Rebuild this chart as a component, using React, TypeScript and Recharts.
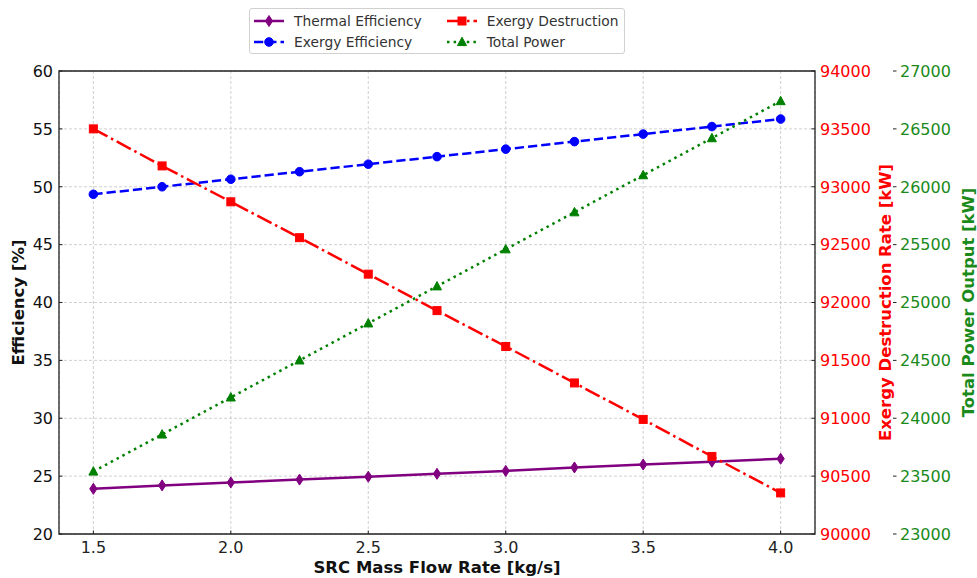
import React from 'react'
import { LineChart, Line, XAxis, YAxis, CartesianGrid, ReferenceArea } from 'recharts'

// SRC mass flow rate sweep [kg/s]
const flowRates = [1.5, 1.75, 2.0, 2.25, 2.5, 2.75, 3.0, 3.25, 3.5, 3.75, 4.0]
const thermalEff = [23.9, 24.2, 24.45, 24.7, 24.95, 25.2, 25.45, 25.75, 26.0, 26.25, 26.5]
const exergyEff = [49.35, 50.0, 50.65, 51.3, 51.95, 52.6, 53.25, 53.9, 54.55, 55.2, 55.85]
const exergyDestruction = [93500, 93180, 92870, 92560, 92245, 91930, 91620, 91305, 90990, 90670, 90355]
const totalPower = [23540, 23860, 24180, 24500, 24820, 25140, 25460, 25780, 26100, 26420, 26740]

const xTicks = [1.5, 2.0, 2.5, 3.0, 3.5, 4.0]
const effTicks = [20, 25, 30, 35, 40, 45, 50, 55, 60]
const destTicks = [90000, 90500, 91000, 91500, 92000, 92500, 93000, 93500, 94000]
const powerTicks = [23000, 23500, 24000, 24500, 25000, 25500, 26000, 26500, 27000]

const data = flowRates.map((x, i) => ({
  x,
  thermal: thermalEff[i],
  exergy: exergyEff[i],
  destruction: exergyDestruction[i],
  power: totalPower[i],
}))

const FONT = 'DejaVu Sans, sans-serif'

type Marker = 'diamond' | 'circle' | 'square' | 'triangle'

const series = [
  { key: 'thermal', name: 'Thermal Efficiency', color: '#800080', dash: undefined, marker: 'diamond' as Marker, axis: 'left', col: 0 },
  { key: 'exergy', name: 'Exergy Efficiency', color: '#0000ff', dash: '9.25 4', marker: 'circle' as Marker, axis: 'left', col: 0 },
  { key: 'destruction', name: 'Exergy Destruction', color: '#ff0000', dash: '16 4 2.5 4', marker: 'square' as Marker, axis: 'dest', col: 1 },
  { key: 'power', name: 'Total Power', color: '#008000', dash: '2.5 4.1', marker: 'triangle' as Marker, axis: 'power', col: 1 },
]

function markerShape(kind: Marker, cx: number, cy: number, color: string, key?: React.Key) {
  switch (kind) {
    case 'diamond':
      return <polygon key={key} points={`${cx},${cy - 5.5} ${cx + 3.6},${cy} ${cx},${cy + 5.5} ${cx - 3.6},${cy}`} fill={color} stroke={color} />
    case 'circle':
      return <circle key={key} cx={cx} cy={cy} r={4.3} fill={color} stroke={color} />
    case 'square':
      return <rect key={key} x={cx - 4} y={cy - 4} width={8} height={8} fill={color} stroke={color} />
    default:
      return <polygon key={key} points={`${cx},${cy - 4.8} ${cx + 4.5},${cy + 3.6} ${cx - 4.5},${cy + 3.6}`} fill={color} stroke={color} />
  }
}

const makeDot = (kind: Marker, color: string) => (props: any) => {
  const { cx, cy, index } = props
  return markerShape(kind, cx, cy, color, `m-${index}`)
}

// matplotlib-style ticks pointing into the plot
const LeftTick = (props: any) => {
  const { x, y, payload } = props
  const axisX = x + 8
  return (
    <g>
      <line x1={axisX} x2={axisX + 3.5} y1={y} y2={y} stroke="#222" />
      <text x={x + 2} y={y} dy="0.36em" textAnchor="end" fontSize={16} fill="#111" fontFamily={FONT}>{payload.value}</text>
    </g>
  )
}

const BottomTick = (props: any) => {
  const { x, y, payload } = props
  const axisY = y - 8
  return (
    <g>
      <line x1={x} x2={x} y1={axisY} y2={axisY - 3.5} stroke="#222" />
      <text x={x} y={y + 11} textAnchor="middle" fontSize={16} fill="#222" fontFamily={FONT}>{Number(payload.value).toFixed(1)}</text>
    </g>
  )
}

const RightTick = (color: string, inward: boolean) => (props: any) => {
  const { x, y, payload } = props
  const axisX = x - 8
  return (
    <g>
      {inward
        ? <line x1={axisX} x2={axisX - 3.5} y1={y} y2={y} stroke="#222" />
        : <line x1={axisX - 2} x2={axisX + 1.5} y1={y} y2={y} stroke="#222" />}
      <text x={x - 3} y={y} dy="0.36em" textAnchor="start" fontSize={16} fill={color} fontFamily={FONT}>{payload.value}</text>
    </g>
  )
}

const axisTitle = (text: string, color: string, dx: number, vertical: boolean) => (props: any) => {
  const vb = props.viewBox
  if (vertical) {
    const cx = vb.x + dx
    const cy = vb.y + vb.height / 2
    return (
      <text x={cx} y={cy} transform={`rotate(-90 ${cx} ${cy})`} textAnchor="middle" dominantBaseline="central"
        fontSize={16.5} fontWeight="bold" fill={color} fontFamily={FONT}>{text}</text>
    )
  }
  return (
    <text x={vb.x + vb.width / 2} y={vb.y + dx} textAnchor="middle" dominantBaseline="central"
      fontSize={16.5} fontWeight="bold" fill={color} fontFamily={FONT}>{text}</text>
  )
}

function LegendBox() {
  const cols = [0, 1].map((c) => series.filter((s) => s.col === c))
  return (
    <div style={{
      position: 'absolute', left: 249, top: 8, width: 374, height: 44, border: '1px solid #d0d0d0',
      borderRadius: 3, background: '#fff', fontFamily: FONT, fontSize: 13.8, color: '#333', display: 'flex',
    }}>
      {cols.map((items, ci) => (
        <div key={ci} style={{ marginLeft: ci === 0 ? 3 : 24, marginTop: 1 }}>
          {items.map((s) => (
            <div key={s.key} style={{ display: 'flex', alignItems: 'center', height: 21 }}>
              <svg width={32} height={14} style={{ marginRight: 9 }}>
                <line x1={1} x2={31} y1={7} y2={7} stroke={s.color} strokeWidth={2.5} strokeDasharray={s.dash} />
                {markerShape(s.marker, 16, 7, s.color)}
              </svg>
              <span style={{ whiteSpace: 'nowrap' }}>{s.name}</span>
            </div>
          ))}
        </div>
      ))}
    </div>
  )
}

export default function App() {
  return (
    <div style={{ position: 'absolute', left: 0, top: 0, width: 977, height: 578, background: '#fff' }}>
      <LineChart width={977} height={578} data={data} margin={{ top: 71, left: 9, right: 22, bottom: 4 }}>
        <CartesianGrid yAxisId="left" stroke="#c4c4c4" strokeDasharray="3 2" strokeWidth={0.8} />
        <XAxis dataKey="x" type="number" domain={[1.375, 4.125]} ticks={xTicks} height={40}
          axisLine={false} tickLine={false} tickSize={6} tickMargin={2} tick={<BottomTick />}
          label={{ content: axisTitle('SRC Mass Flow Rate [kg/s]', '#111', 33, false) }} />
        <YAxis yAxisId="left" orientation="left" domain={[20, 60]} ticks={effTicks} width={50}
          axisLine={false} tickLine={false} tickSize={6} tickMargin={2} tick={<LeftTick />}
          label={{ content: axisTitle('Efficiency [%]', '#111', 9, true) }} />
        <YAxis yAxisId="dest" orientation="right" domain={[90000, 94000]} ticks={destTicks} width={80}
          axisLine={false} tickLine={false} tickSize={6} tickMargin={2} tick={RightTick('#ff0000', true)}
          label={{ content: axisTitle('Exergy Destruction Rate [kW]', '#ff0000', 70, true) }} />
        <YAxis yAxisId="power" orientation="right" domain={[23000, 27000]} ticks={powerTicks} width={60}
          axisLine={false} tickLine={false} tickSize={6} tickMargin={2} tick={RightTick('#1a8a1a', false)}
          label={{ content: axisTitle('Total Power Output [kW]', '#1a8a1a', 73, true) }} />
        <ReferenceArea yAxisId="left" x1={1.375} x2={4.125} y1={20} y2={60} fill="none" stroke="#222"
          strokeWidth={1.3} ifOverflow="visible" />
        {series.map((s) => (
          <Line key={s.key} type="linear" dataKey={s.key} name={s.name} yAxisId={s.axis} stroke={s.color}
            strokeWidth={2.5} strokeDasharray={s.dash} dot={makeDot(s.marker, s.color)} activeDot={false}
            isAnimationActive={false} />
        ))}
      </LineChart>
      <LegendBox />
    </div>
  )
}
